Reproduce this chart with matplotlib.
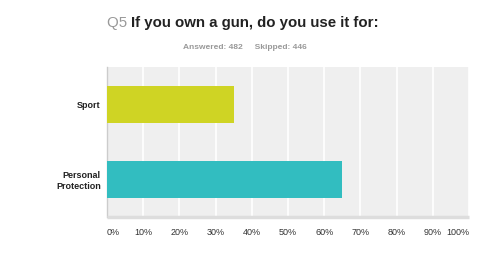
import matplotlib
matplotlib.use("Agg")
import matplotlib.pyplot as plt

categories = ["Sport", "Personal\nProtection"]
values = [35, 65]
colors = ["#CFD424", "#32BDC0"]
ticks = [0, 10, 20, 30, 40, 50, 60, 70, 80, 90, 100]
tick_labels = [f"{t}%" for t in ticks]

plt.rcParams['font.family'] = ['Liberation Sans', 'DejaVu Sans']

fig = plt.figure(figsize=(4.9, 2.73), dpi=100)
ax = fig.add_axes([107/490, 1-217/273, (469-107)/490, 150/273])
ax.set_facecolor("#EFEFEF")

ypos = list(range(len(categories)))
ax.barh(ypos, values, height=0.5, color=colors, edgecolor="none", zorder=3)
ax.set_ylim(len(categories)-0.5, -0.5)
ax.set_xlim(0, 100)
ax.set_xticks(ticks)
ax.set_xticklabels(tick_labels, fontsize=6.5, color="#333333")
for i, lab in enumerate(ax.get_xticklabels()):
    if i == 0:
        lab.set_ha("left")
    elif i == len(ticks)-1:
        lab.set_ha("right")
ax.xaxis.grid(True, color="white", linewidth=1.2, zorder=1)
ax.set_axisbelow(True)
ax.tick_params(axis="x", length=0, pad=8)
ax.tick_params(axis="y", length=0, pad=4.5)
ax.set_yticks(ypos)
ax.set_yticklabels(categories, fontsize=6.5, fontweight="bold", color="#222222", ha="right")

for s in ["top", "right"]:
    ax.spines[s].set_visible(False)
ax.spines["left"].set_color("#CCCCCC")
ax.spines["left"].set_linewidth(1)
ax.spines["bottom"].set_color("#DDDDDD")
ax.spines["bottom"].set_linewidth(2.5)
ax.spines["bottom"].set_capstyle("butt")

ty = 1 - 23/273
t1 = fig.text(107/490, ty, "Q5 ", fontsize=10.8, color="#999999", va="center", ha="left")
fig.canvas.draw()
bb = t1.get_window_extent()
fig.text(bb.x1/490, ty, "If you own a gun, do you use it for:", fontsize=10.8,
         color="#222222", fontweight="bold", va="center", ha="left")
fig.text(245/490, 1-47/273, "Answered: 482     Skipped: 446", fontsize=6,
         color="#999999", fontweight="bold", va="center", ha="center")

fig.savefig("out.png", dpi=100)
